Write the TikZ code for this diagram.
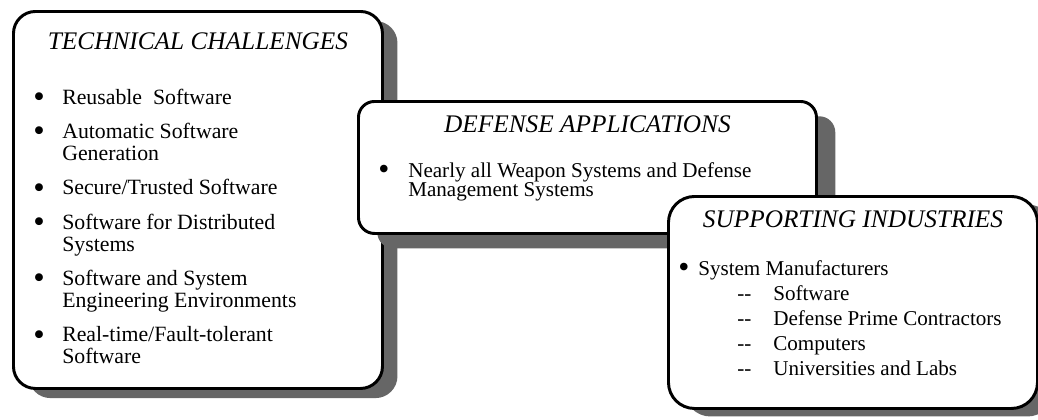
\documentclass[tikz,border=0pt]{standalone}
\usepackage{fontspec}
\setmainfont{Liberation Serif}
\usetikzlibrary{shadows}

\newcommand{\dotmark}{\raisebox{-0.14em}{\scalebox{1.5}{\textbullet}}}
\newcommand{\dashitem}[1]{\hspace*{0.975cm}\makebox[0.9cm][l]{-{}-}#1}

\begin{document}
\begin{tikzpicture}

\tikzset{
  panel/.style={draw=black, line width=2.1pt, fill=white, anchor=north west, inner sep=0pt},
  shadowed/.style 2 args={drop shadow={shadow xshift=#1, shadow yshift=#2, fill=black!60, opacity=1}},
  heading/.style={anchor=base, inner sep=0pt, font=\fontsize{18}{18}\selectfont\itshape},
  items/.style={anchor=base west, inner sep=0pt}
}

\fill[white] (0,0) rectangle (25.95,-10.475);
\useasboundingbox (0,0) rectangle (25.95,-10.475);

% technical challenges
\node[panel, rounded corners=0.55cm, minimum width=9.225cm, minimum height=9.425cm,
  shadowed={0.375cm}{-0.24cm}] (tech) at (0.30,-0.25) {};
\node[heading] (techtitle) at ([yshift=-0.975cm]tech.north) {TECHNICAL CHALLENGES};
\node[items, font=\fontsize{15.5}{15.3}\selectfont] (techlist)
  at ([xshift=0.525cm,yshift=-2.35cm]tech.north west) {%
  \begin{tabular}[t]{@{}p{0.725cm}@{}l@{}}
  \dotmark & Reusable\ \ Software\\[9.2pt]
  \dotmark & Automatic Software\\
           & Generation\\[9.2pt]
  \dotmark & Secure/Trusted Software\\[9.2pt]
  \dotmark & Software for Distributed\\
           & Systems\\[9.2pt]
  \dotmark & Software and System\\
           & Engineering Environments\\[9.2pt]
  \dotmark & Real-time/Fault-tolerant\\
           & Software
  \end{tabular}};

% defense applications
\node[panel, rounded corners=0.4cm, minimum width=11.45cm, minimum height=3.3cm,
  shadowed={0.47cm}{-0.37cm}] (defense) at (8.925,-2.5) {};
\node[heading] (deftitle) at ([yshift=-0.8cm]defense.north) {DEFENSE APPLICATIONS};
\node[items, font=\fontsize{15}{14.2}\selectfont] (deflist)
  at ([xshift=0.525cm,yshift=-1.925cm]defense.north west) {%
  \begin{tabular}[t]{@{}p{0.75cm}@{}l@{}}
  \dotmark & Nearly all Weapon Systems and Defense\\
           & Management Systems
  \end{tabular}};

% supporting industries
\node[panel, rounded corners=0.65cm, minimum width=9.225cm, minimum height=5.3cm,
  shadowed={0.4cm}{-0.2cm}] (industry) at (16.675,-4.875) {};
\node[heading] (indtitle) at ([yshift=-0.8cm]industry.north) {SUPPORTING INDUSTRIES};
\node[items, font=\fontsize{15}{17.8}\selectfont] (indlist)
  at ([xshift=0.275cm,yshift=-2.0cm]industry.north west) {%
  \begin{tabular}[t]{@{}p{0.5cm}@{}l@{}}
  \dotmark & System Manufacturers\\
           & \dashitem{Software}\\
           & \dashitem{Defense Prime Contractors}\\
           & \dashitem{Computers}\\
           & \dashitem{Universities and Labs}
  \end{tabular}};

\end{tikzpicture}
\end{document}
